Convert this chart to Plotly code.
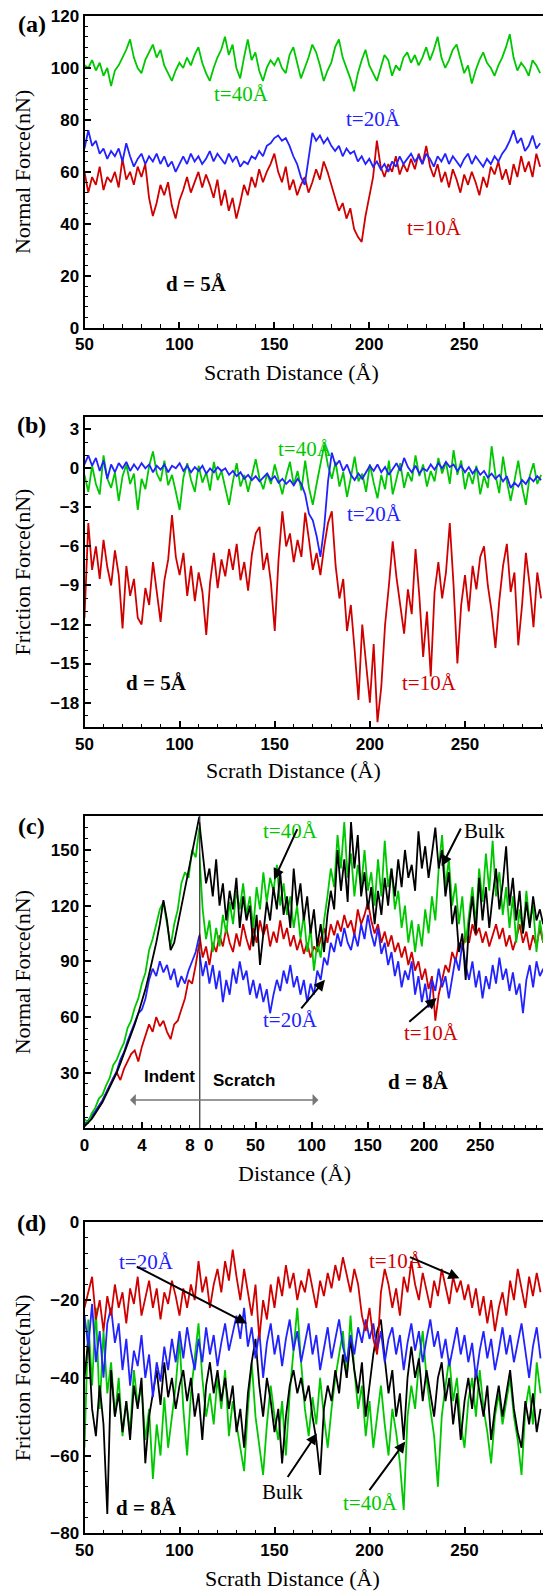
import plotly.graph_objects as go

# ---------------- data ----------------
dist = [50,52,54,56,58,60,62,64,66,68,
        70,72,74,76,78,80,82,84,86,88,
        90,92,94,96,98,100,102,104,106,108,
        110,112,114,116,118,120,122,124,126,128,
        130,132,134,136,138,140,142,144,146,148,
        150,152,154,156,158,160,162,164,166,168,
        170,172,174,176,178,180,182,184,186,188,
        190,192,194,196,198,200,202,204,206,208,
        210,212,214,216,218,220,222,224,226,228,
        230,232,234,236,238,240,242,244,246,248,
        250,252,254,256,258,260,262,264,266,268,
        270,272,274,276,278,280,282,284,286,288,
        290]

# (a) normal force, d = 5 A
a_t40 = [101,100,103,99,102,97,100,93,99,101,
         104,107,111,104,100,98,103,106,109,104,
         107,101,98,95,99,102,100,104,101,105,
         108,102,98,95,100,104,107,112,105,109,
         100,96,104,111,103,106,99,95,100,103,
         101,104,100,98,105,108,102,96,100,104,
         109,106,101,95,99,102,108,111,104,100,
         96,91,98,103,107,101,98,95,100,105,
         103,97,101,99,104,106,102,105,101,104,
         108,103,107,112,104,100,103,107,109,104,
         98,101,94,99,103,106,102,100,97,101,
         104,108,113,104,99,102,100,97,103,101,
         98]
a_t20 = [69,76,70,72,67,69,65,68,66,69,
         64,71,66,62,65,67,63,66,64,67,
         63,66,62,64,60,63,66,63,67,64,
         66,63,65,68,64,67,65,63,67,64,
         66,62,64,63,66,65,68,66,70,71,
         73,74,72,73,70,66,63,58,55,66,
         75,72,74,71,73,70,68,70,66,69,
         67,68,64,66,63,65,62,64,61,63,
         60,64,62,66,63,65,67,64,66,63,
         67,65,62,66,64,67,63,66,64,62,
         65,67,63,66,64,62,65,63,66,64,
         67,69,72,76,71,73,68,70,74,69,
         71]
a_t10 = [60,52,58,55,62,53,58,56,60,54,
         65,57,60,55,62,58,63,50,43,48,
         55,51,56,47,42,49,53,58,52,56,
         60,54,59,55,50,57,47,53,45,50,
         42,48,55,51,58,54,61,56,60,63,
         67,60,56,62,53,57,51,55,58,52,
         56,61,57,64,60,55,50,45,48,42,
         46,38,35,33,43,50,58,72,62,58,
         63,60,66,59,63,60,65,61,67,63,
         70,62,58,63,56,60,54,61,57,52,
         59,55,60,56,51,58,54,62,59,64,
         57,61,55,63,58,66,60,64,58,67,
         62]

# (b) friction force, d = 5 A
b_t20 = [0.3,1.0,0.2,0.8,-0.2,0.6,-0.8,0.3,-0.3,0.4,
         0.0,0.5,-0.2,0.3,-0.1,0.4,0.0,0.3,-0.3,0.2,
         -0.1,0.3,-0.3,0.2,0.0,0.4,-0.2,0.2,-0.3,0.1,
         -0.2,0.2,-0.4,0.0,-0.3,0.1,-0.2,0.0,-0.5,-0.2,
         -0.6,-0.3,-0.8,-0.5,-0.9,-0.6,-1.0,-0.7,-0.4,-0.9,
         -0.6,-1.1,-0.8,-1.2,-0.9,-1.3,-0.8,-1.2,-2.0,-3.5,
         -4.0,-5.2,-6.8,-4.5,-1.0,1.2,0.2,0.6,-0.2,0.3,
         -0.5,-0.9,-0.4,-0.8,-0.3,0.2,-0.2,0.3,-0.3,0.1,
         -0.5,0.0,0.4,-0.2,0.8,0.1,-0.3,0.2,-0.4,0.0,
         -0.2,0.3,-0.1,0.4,0.0,0.5,0.1,0.3,-0.2,0.2,
         -0.3,0.1,-0.4,0.0,-0.5,-0.2,-0.7,-0.4,-0.8,-0.5,
         -1.0,-0.6,-1.5,-1.1,-1.4,-0.9,-1.2,-0.7,-1.0,-0.6,
         -0.9]
b_t40 = [-0.5,-1.8,0.2,-1.2,-2.0,1.0,-0.8,-1.5,-0.3,-2.5,
         -0.6,0.3,-1.2,-0.4,-3.2,-0.8,-1.6,0.2,1.3,-0.4,
         -1.0,0.6,-1.3,-0.5,-1.8,-3.2,-0.7,0.4,-0.9,-1.8,
         0.2,-1.1,-0.3,-1.7,0.5,-0.9,-0.2,-1.5,-2.8,-1.0,
         0.4,-1.4,-0.5,-1.8,-0.6,0.7,-0.8,-1.6,-0.4,-1.2,
         0.3,-0.9,-2.0,-0.6,0.5,-1.3,-0.2,-1.7,0.6,-1.5,
         -2.8,-1.2,0.4,1.8,0.2,-0.8,0.5,-1.4,-0.3,-2.2,
         -0.7,0.9,-1.0,-0.4,-1.8,0.3,-1.1,-2.3,-0.5,-1.6,
         0.6,-2.0,-0.8,0.4,-1.5,-0.3,-1.0,1.0,-0.6,0.3,
         -1.4,-0.2,-1.0,0.8,-0.4,0.5,-1.2,1.4,-0.5,0.6,
         -1.6,-0.3,-1.2,0.2,-2.0,-0.6,-1.5,1.7,-0.5,-1.9,
         0.9,-1.0,-2.5,-0.8,0.6,-1.4,-2.8,-0.6,0.4,-1.2,
         -0.5]
b_t10 = [-11.5,-4.2,-7.8,-6.0,-8.5,-5.5,-7.6,-9.0,-6.3,-8.2,
         -12.3,-7.5,-9.8,-8.5,-11.5,-12.0,-9.2,-10.5,-7.2,-9.5,
         -11.8,-8.6,-7.0,-3.6,-6.8,-8.2,-6.5,-9.8,-7.5,-10.2,
         -8.0,-9.5,-12.8,-8.8,-6.5,-9.2,-7.0,-8.3,-6.2,-7.8,
         -5.8,-8.6,-7.2,-9.4,-6.6,-5.0,-4.5,-7.8,-6.5,-8.8,
         -12.5,-7.0,-3.3,-6.0,-5.0,-7.2,-5.5,-6.8,-3.4,-5.5,
         -7.8,-6.5,-8.2,-6.0,-4.2,-3.3,-7.5,-10.0,-8.5,-12.5,
         -10.5,-14.0,-17.8,-12.0,-15.0,-18.0,-13.5,-19.5,-16.8,-12.0,
         -9.0,-5.6,-8.4,-10.5,-12.7,-9.3,-11.2,-6.2,-9.8,-14.5,
         -11.0,-16.0,-9.5,-7.2,-10.0,-8.0,-4.2,-9.0,-15.0,-10.5,
         -8.2,-11.0,-7.5,-9.3,-6.8,-6.0,-9.0,-11.0,-13.8,-10.2,
         -7.5,-5.8,-9.5,-8.0,-13.6,-10.5,-6.5,-9.0,-12.2,-8.0,
         -10.0]

# (c) normal force, d = 8 A : indentation part
indent = [0,0.25,0.5,0.75,1,1.25,1.5,1.75,2,2.25,2.5,2.75,3,3.25,3.5,3.75,
          4,4.25,4.5,4.75,5,5.25,5.5,5.75,6,6.25,6.5,6.75,7,7.25,7.5,7.75,8]
ci_bulk = [1,3,5,8,11,14,18,22,26,30,35,40,45,50,56,62,
           68,75,83,91,100,110,123,112,96,100,110,119,128,138,148,160,168]
ci_t40 = [5,3,8,11,16,18,23,27,34,37,42,46,54,58,65,70,
          78,84,96,102,110,118,122,110,98,110,118,132,138,135,150,146,162]
ci_t20 = [2,4,7,9,12,15,19,23,27,31,37,41,47,52,58,62,
          64,70,80,86,82,90,84,88,80,86,76,82,78,85,90,95,104]
ci_t10 = [2,4,6,9,12,15,19,23,27,30,26,32,36,40,42,36,
          44,50,56,52,60,55,58,52,48,56,58,64,70,80,78,88,100]

# (c) scratch part
scr = [0,3,6,9,12,15,18,21,24,27,
       30,33,36,39,42,45,48,51,54,57,
       60,63,66,69,72,75,78,81,84,87,
       90,93,96,99,102,105,108,111,114,117,
       120,123,126,129,132,135,138,141,144,147,
       150,153,156,159,162,165,168,171,174,177,
       180,183,186,189,192,195,198,201,204,207,
       210,213,216,219,222,225,228,231,234,237,
       240,243,246,249,252,255,258,261,264,267,
       270,273,276,279,282,285,288,291,294,297,
       300,303,306]
cs_bulk = [165,150,132,140,125,145,120,132,112,128,
           118,135,108,125,112,120,98,115,88,105,
           122,112,130,118,138,115,125,108,140,120,
           132,112,125,105,118,98,110,95,115,128,
           118,150,128,145,122,165,140,158,125,138,
           118,130,110,128,115,135,120,140,125,145,
           130,150,135,142,128,160,140,152,135,148,
           162,140,150,125,138,110,120,95,105,80,
           110,125,105,135,112,130,108,125,140,118,
           132,152,120,135,112,128,105,122,108,125,
           112,118,110]
cs_t40 = [148,118,102,112,95,108,98,115,105,122,
          110,128,118,132,115,125,108,130,118,138,
          122,135,128,142,120,132,115,125,108,120,
          102,115,95,108,85,100,92,112,125,140,
          130,158,140,165,135,148,125,142,130,150,
          128,138,120,145,125,155,130,140,118,128,
          108,120,100,112,95,110,98,118,105,125,
          112,140,158,130,145,120,132,110,125,100,
          115,130,110,140,122,148,128,155,125,138,
          115,130,108,125,100,118,105,128,110,120,
          95,112,100]
cs_t10 = [105,92,98,88,100,95,104,98,108,100,
          95,105,98,110,102,96,108,100,112,104,
          110,98,106,100,112,102,108,98,104,96,
          102,94,100,92,98,95,102,108,100,110,
          104,112,106,115,108,112,104,118,110,115,
          122,112,105,110,100,106,98,104,95,100,
          92,98,88,95,85,90,80,86,75,82,
          58,72,80,88,84,95,90,100,96,105,
          100,110,104,108,100,106,98,104,110,102,
          108,98,104,96,102,110,100,106,96,104,
          98,108,100]
cs_t20 = [95,82,90,78,88,75,85,68,80,72,
          86,78,90,80,85,72,80,70,78,68,
          75,62,72,80,74,85,78,88,76,82,
          72,80,68,78,72,85,80,92,88,100,
          95,105,98,108,100,96,105,98,110,102,
          115,105,98,108,94,100,88,95,82,90,
          76,85,80,90,72,82,68,78,65,80,
          74,86,76,82,70,80,92,85,100,88,
          80,90,76,85,70,82,75,88,78,92,
          80,86,74,84,72,78,62,80,88,76,
          90,82,86]

# (d) friction force, d = 8 A
d_t10 = [-22,-18,-14,-25,-20,-28,-19,-24,-16,-22,
         -18,-26,-17,-21,-14,-24,-19,-15,-22,-17,
         -25,-18,-21,-15,-19,-24,-17,-22,-16,-20,
         -10,-18,-14,-22,-16,-12,-18,-10,-15,-7,
         -14,-20,-12,-18,-24,-16,-30,-20,-25,-16,
         -22,-14,-19,-11,-17,-13,-20,-15,-18,-12,
         -17,-22,-15,-19,-13,-17,-11,-15,-9,-14,
         -18,-12,-16,-24,-28,-22,-30,-34,-18,-12,
         -16,-22,-17,-24,-14,-18,-10,-16,-20,-13,
         -18,-22,-15,-19,-12,-17,-21,-14,-18,-15,
         -20,-16,-22,-17,-24,-19,-26,-20,-28,-22,
         -18,-24,-15,-20,-12,-17,-22,-14,-19,-13,
         -18]
d_t20 = [-24,-32,-21,-36,-28,-40,-26,-22,-31,-26,
         -38,-30,-42,-33,-37,-29,-40,-34,-45,-36,
         -41,-32,-38,-30,-36,-28,-35,-27,-33,-38,
         -30,-36,-27,-34,-29,-37,-31,-26,-33,-28,
         -24,-30,-22,-32,-27,-35,-28,-40,-31,-26,
         -34,-29,-37,-30,-25,-33,-28,-36,-31,-26,
         -34,-29,-38,-32,-27,-35,-30,-25,-32,-36,
         -29,-34,-27,-31,-25,-30,-26,-33,-28,-36,
         -30,-27,-34,-29,-38,-31,-26,-33,-28,-36,
         -30,-25,-32,-28,-35,-30,-37,-32,-27,-34,
         -29,-36,-31,-40,-33,-28,-35,-30,-38,-33,
         -27,-34,-29,-36,-31,-26,-33,-40,-32,-27,
         -35]
d_bulk = [-40,-30,-48,-55,-42,-52,-75,-38,-50,-44,
          -54,-46,-56,-42,-48,-40,-62,-50,-44,-38,
          -47,-36,-45,-40,-48,-42,-38,-46,-40,-50,
          -44,-56,-42,-36,-44,-38,-46,-40,-48,-42,
          -54,-48,-58,-44,-36,-30,-42,-50,-40,-46,
          -54,-48,-62,-50,-42,-38,-44,-40,-46,-42,
          -50,-56,-65,-48,-42,-46,-38,-44,-34,-40,
          -30,-38,-44,-36,-50,-42,-34,-28,-25,-35,
          -44,-38,-50,-44,-56,-40,-32,-40,-35,-46,
          -38,-44,-50,-40,-36,-46,-40,-52,-44,-56,
          -46,-40,-48,-38,-44,-50,-42,-56,-48,-42,
          -50,-44,-38,-48,-54,-58,-46,-52,-44,-54,
          -48]
d_t40 = [-58,-25,-42,-22,-48,-28,-44,-36,-50,-40,
         -55,-46,-54,-38,-47,-42,-56,-48,-66,-52,
         -60,-45,-58,-50,-42,-30,-48,-60,-44,-35,
         -26,-40,-50,-44,-52,-40,-48,-38,-55,-46,
         -52,-58,-64,-48,-36,-50,-58,-65,-52,-42,
         -50,-56,-46,-60,-44,-32,-22,-36,-48,-55,
         -45,-52,-40,-50,-58,-48,-40,-34,-28,-40,
         -24,-38,-48,-42,-55,-46,-58,-50,-42,-52,
         -60,-48,-54,-62,-74,-50,-42,-48,-36,-28,
         -40,-48,-55,-68,-50,-42,-35,-46,-40,-52,
         -58,-46,-40,-50,-38,-48,-54,-62,-50,-44,
         -52,-46,-40,-50,-56,-65,-48,-42,-52,-36,
         -44]

# ---------------- style ----------------
GREEN = "#00c800"
BLUE = "#2222ff"
RED = "#d00000"
BLACK = "#000000"
SERIF = "Liberation Serif, Times New Roman, serif"
SANS = "Liberation Sans, Arial, sans-serif"
LW = 1.8
H = 1593.0
W = 543.0

def ydom(top, bottom):
    return [1 - bottom / H, 1 - top / H]

fig = go.Figure()

def line(x, y, color, xa, ya):
    fig.add_trace(go.Scatter(x=x, y=y, mode="lines", xaxis=xa, yaxis=ya,
                             line=dict(color=color, width=LW), hoverinfo="skip"))

# (a)
line(dist, a_t10, RED, "x", "y")
line(dist, a_t20, BLUE, "x", "y")
line(dist, a_t40, GREEN, "x", "y")
# (b)
line(dist, b_t10, RED, "x2", "y2")
line(dist, b_t40, GREEN, "x2", "y2")
line(dist, b_t20, BLUE, "x2", "y2")
# (c) indent
line(indent, ci_t10, RED, "x3", "y3")
line(indent, ci_t20, BLUE, "x3", "y3")
line(indent, ci_t40, GREEN, "x3", "y3")
line(indent, ci_bulk, BLACK, "x3", "y3")
# (c) scratch
line(scr, cs_t10, RED, "x4", "y4")
line(scr, cs_t20, BLUE, "x4", "y4")
line(scr, cs_t40, GREEN, "x4", "y4")
line(scr, cs_bulk, BLACK, "x4", "y4")
# (d)
line(dist, d_t40, GREEN, "x5", "y5")
line(dist, d_bulk, BLACK, "x5", "y5")
line(dist, d_t20, BLUE, "x5", "y5")
line(dist, d_t10, RED, "x5", "y5")

tickfont = dict(family=SANS, size=17, color="black", weight="bold")
titlefont = dict(family=SERIF, size=22, color="black")

def xax(dom, rng, anchor, minor_dtick, **kw):
    d = dict(domain=dom, range=rng, anchor=anchor, showline=True, linecolor="black",
             linewidth=2, mirror=True, ticks="inside", ticklen=6, tickwidth=1.5,
             tickcolor="black", showgrid=False, zeroline=False, tickfont=tickfont,
             automargin=False,
             minor=dict(ticks="inside", ticklen=3.5, tickwidth=1, tickcolor="black",
                        dtick=minor_dtick, showgrid=False))
    d.update(kw)
    return d

def yax(dom, rng, anchor, minor_dtick, title, **kw):
    d = dict(domain=dom, range=rng, anchor=anchor, showline=True, linecolor="black",
             linewidth=2, mirror=False, ticks="inside", ticklen=6, tickwidth=1.5,
             tickcolor="black", showgrid=False, zeroline=False, tickfont=tickfont,
             automargin=False,
             title=dict(text=title, font=titlefont, standoff=14),
             minor=dict(ticks="inside", ticklen=3.5, tickwidth=1, tickcolor="black",
                        dtick=minor_dtick, showgrid=False))
    d.update(kw)
    return d

XL = 84.5 / W
XB = 199.3 / W
fig.update_layout(
    width=543, height=1593, margin=dict(l=0, r=0, t=0, b=0),
    paper_bgcolor="white", plot_bgcolor="white", showlegend=False,
    xaxis=xax([XL, 1], [50, 291.5], "y", 10, tickvals=[50, 100, 150, 200, 250]),
    yaxis=yax(ydom(16, 327.7), [0, 120], "x", 4, "Normal Force(nN)", dtick=20, tick0=0),
    xaxis2=xax([XL, 1], [50, 291], "y2", 10, tickvals=[50, 100, 150, 200, 250]),
    yaxis2=yax(ydom(416.7, 727.3), [-19.9, 3.97], "x2", 1, "Friction Force(nN)", dtick=3, tick0=0),
    xaxis3=xax([XL, XB], [0, 8], "y3", 2 / 3, tickvals=[0, 4, 8],
               ticktext=["0", "4", "8\u00a0\u00a0\u00a0\u00a0"]),
    yaxis3=yax(ydom(816, 1128.3), [0, 168.3], "x3", 6, "Normal Force(nN)",
               tickvals=[30, 60, 90, 120, 150]),
    xaxis4=xax([XB, 1], [0, 305.8], "y4", 10, tickvals=[0, 50, 100, 150, 200, 250],
               ticktext=["\u00a0\u00a0\u00a0\u00a00", "50", "100", "150", "200", "250"]),
    yaxis4=dict(domain=ydom(816, 1128.3), range=[0, 168.3], anchor="x4", showline=False,
                showticklabels=False, ticks="", showgrid=False, zeroline=False, automargin=False),
    xaxis5=xax([XL, 1], [50, 291.3], "y5", 10, tickvals=[50, 100, 150, 200, 250]),
    yaxis5=yax(ydom(1222.3, 1533.3), [-80, 0], "x5", 4, "Friction Force(nN)", dtick=20, tick0=0),
)

# boundary between indentation and scratching
fig.add_shape(type="line", xref="x4", yref="y4 domain", x0=0, x1=0, y0=0, y1=1,
              line=dict(color="black", width=2))

ann = []

def text(x, y, s, color, xr, yr, size=21, bold=False, family=SERIF):
    ann.append(dict(x=x, y=y, xref=xr, yref=yr, text=("<b>%s</b>" % s) if bold else s,
                    showarrow=False, font=dict(family=family, size=size, color=color),
                    xanchor="center", yanchor="middle"))

def arrow(hx, hy, tx, ty, xr, yr):
    ann.append(dict(x=hx, y=hy, ax=tx, ay=ty, xref=xr, yref=yr, axref=xr, ayref=yr,
                    text="", showarrow=True, arrowhead=2, arrowsize=1.1, arrowwidth=2,
                    arrowcolor="black"))

# panel labels
for lab, py in [("(a)", 24), ("(b)", 425), ("(c)", 826), ("(d)", 1223.3)]:
    text(31.7 / W, 1 - py / H, lab, "black", "paper", "paper", size=24, bold=True)

# x-axis titles
for lab, py, px in [("Scrath Distance (Å)", 372, 291), ("Scrath Distance (Å)", 770.7, 293),
                    ("Distance (Å)", 1173.3, 294), ("Scrath Distance (Å)", 1578.5, 292)]:
    text(px / W, 1 - py / H, lab, "black", "paper", "paper", size=22)

# (a)
text(132.8, 90, "t=40Å", GREEN, "x", "y")
text(202.2, 80.5, "t=20Å", BLUE, "x", "y")
text(234.3, 38.2, "t=10Å", RED, "x", "y")
text(108.8, 16.8, "d = 5Å", "black", "x", "y", bold=True)
# (b)
text(166.2, 1.5, "t=40Å", GREEN, "x2", "y2")
text(202.5, -3.5, "t=20Å", BLUE, "x2", "y2")
text(231.2, -16.5, "t=10Å", RED, "x2", "y2")
text(87.6, -16.5, "d = 5Å", "black", "x2", "y2", bold=True)
# (c)
text(80.7, 160, "t=40Å", GREEN, "x4", "y4")
arrow(66.5, 134, 87.8, 162, "x4", "y4")
text(254, 160, "Bulk", "black", "x4", "y4")
arrow(215.6, 141.2, 233.4, 162.4, "x4", "y4")
text(80.7, 58.4, "t=20Å", BLUE, "x4", "y4")
arrow(111.8, 80, 89.6, 63.8, "x4", "y4")
text(206.7, 51.3, "t=10Å", RED, "x4", "y4")
arrow(211.2, 70.2, 185.5, 56.7, "x4", "y4")
text(5.94, 27.8, "Indent", "black", "x3", "y3", size=17, bold=True, family=SANS)
text(40, 25.7, "Scratch", "black", "x4", "y4", size=17, bold=True, family=SANS)
text(194.8, 25.2, "d = 8Å", "black", "x4", "y4", bold=True)
ann.append(dict(x=106, y=15.3, xref="x4", yref="y4", ax=-190, ay=0, text="",
                showarrow=True, arrowhead=1, arrowside="end+start", arrowsize=1.3,
                arrowwidth=1.5, arrowcolor="#777777"))
# (d)
text(82.4, -10.1, "t=20Å", BLUE, "x5", "y5")
arrow(135.5, -26, 76.7, -11.2, "x5", "y5")
text(214.4, -9.9, "t=10Å", RED, "x5", "y5")
arrow(247.3, -14.4, 220.5, -8.8, "x5", "y5")
text(154.3, -69.3, "Bulk", "black", "x5", "y5")
arrow(172.3, -54.3, 156.4, -65.9, "x5", "y5")
text(200.3, -72.3, "t=40Å", GREEN, "x5", "y5")
arrow(218.8, -56.4, 199.4, -69.3, "x5", "y5")
text(82.8, -73.6, "d = 8Å", "black", "x5", "y5", bold=True)

fig.update_layout(annotations=ann)
fig.write_html("out.html")
